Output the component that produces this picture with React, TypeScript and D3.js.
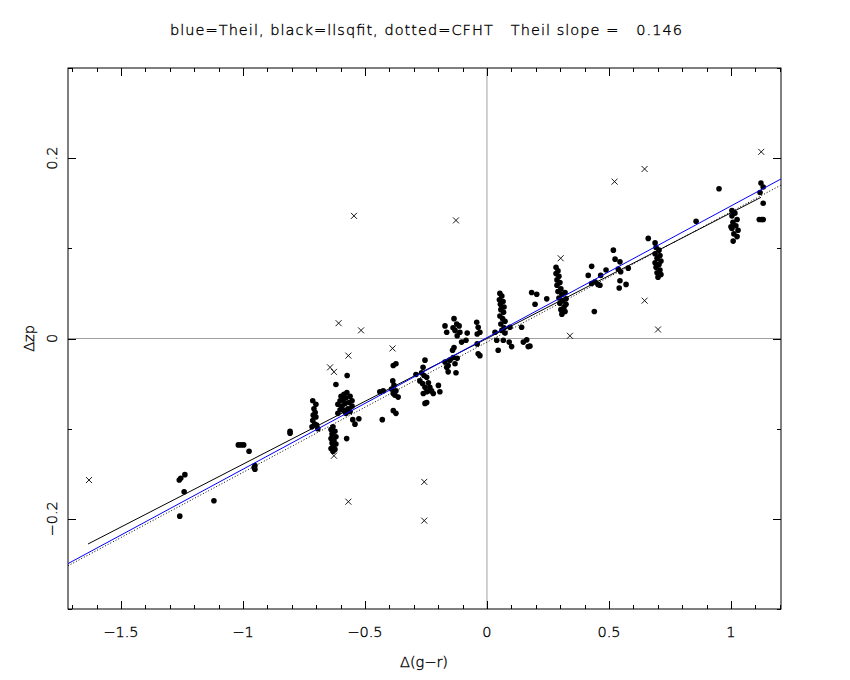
import React from "react";
import * as d3 from "d3";

const W = 850;
const H = 680;
const frame = { left: 68, right: 781, top: 68, bottom: 609 };

const titleText = "blue=Theil, black=llsqfit, dotted=CFHT   Theil slope =   0.146";
const xTickLabels = ["-1.5", "-1", "-0.5", "0", "0.5", "1"];
const yTickLabels = ["-0.2", "0", "0.2"];

// stars kept in the fit: [delta(g-r), delta zp]
const keptPoints: [number, number][] = [
  [-1.261, -0.157], [-1.255, -0.155], [-1.238, -0.151], [-1.241, -0.17], [-1.259, -0.197],
  [-1.119, -0.18], [-1.019, -0.118], [-1.008, -0.118], [-0.997, -0.118], [-0.975, -0.125],
  [-0.951, -0.141], [-0.951, -0.145], [-0.954, -0.143], [-0.807, -0.103], [-0.807, -0.105],
  [-0.714, -0.069], [-0.701, -0.073], [-0.709, -0.078], [-0.704, -0.082], [-0.712, -0.085],
  [-0.701, -0.087], [-0.714, -0.091], [-0.706, -0.095], [-0.698, -0.096], [-0.717, -0.098],
  [-0.693, -0.1],
  [-0.631, -0.098], [-0.639, -0.101], [-0.623, -0.103], [-0.635, -0.106], [-0.619, -0.109],
  [-0.639, -0.111], [-0.627, -0.113], [-0.635, -0.116], [-0.619, -0.117], [-0.631, -0.12],
  [-0.639, -0.122], [-0.623, -0.123], [-0.631, -0.125],
  [-0.619, -0.051], [-0.573, -0.041], [-0.598, -0.064], [-0.586, -0.062], [-0.574, -0.06],
  [-0.602, -0.069], [-0.59, -0.068], [-0.578, -0.066], [-0.561, -0.064], [-0.611, -0.073],
  [-0.594, -0.075], [-0.582, -0.072], [-0.565, -0.071], [-0.553, -0.069], [-0.602, -0.079],
  [-0.586, -0.08], [-0.57, -0.078], [-0.553, -0.075], [-0.611, -0.083], [-0.578, -0.083],
  [-0.561, -0.081], [-0.55, -0.09], [-0.541, -0.095], [-0.525, -0.089], [-0.575, -0.111],
  [-0.439, -0.059], [-0.425, -0.058], [-0.429, -0.09],
  [-0.384, -0.03], [-0.373, -0.028], [-0.386, -0.047], [-0.381, -0.052], [-0.391, -0.056],
  [-0.373, -0.058], [-0.377, -0.063], [-0.364, -0.065], [-0.384, -0.061], [-0.384, -0.08],
  [-0.373, -0.083],
  [-0.291, -0.04], [-0.254, -0.024], [-0.262, -0.032], [-0.268, -0.038], [-0.258, -0.041],
  [-0.247, -0.043], [-0.275, -0.047], [-0.264, -0.05], [-0.254, -0.054], [-0.24, -0.049],
  [-0.234, -0.054], [-0.247, -0.059], [-0.261, -0.061], [-0.234, -0.058], [-0.227, -0.058],
  [-0.22, -0.061], [-0.199, -0.052], [-0.193, -0.059], [-0.247, -0.071], [-0.254, -0.072],
  [-0.172, -0.026], [-0.159, -0.03], [-0.152, -0.024], [-0.138, -0.021], [-0.131, -0.028],
  [-0.122, -0.022], [-0.141, -0.013], [-0.135, -0.01], [-0.165, -0.032], [-0.159, -0.037],
  [-0.127, -0.038],
  [-0.172, 0.014], [-0.165, 0.007], [-0.135, 0.022], [-0.124, 0.016], [-0.114, 0.014],
  [-0.131, 0.009], [-0.111, 0.007], [-0.122, 0.003], [-0.081, 0.006], [-0.086, -0.002],
  [-0.104, -0.004], [-0.139, 0.012],
  [-0.042, 0.018], [-0.036, 0.0125], [-0.04, 0.005], [-0.04, -0.006], [-0.036, -0.017],
  [-0.029, -0.019], [-0.029, 0.007], [0.033, 0.007], [0.046, -0.013], [0.04, -0.002],
  [0.067, -0.002], [0.091, -0.004], [0.101, -0.009], [0.094, 0.0125], [0.142, 0.0125],
  [0.149, -0.004], [0.163, -0.0015], [0.169, -0.009], [0.176, -0.0085],
  [0.053, 0.05], [0.061, 0.047], [0.051, 0.043], [0.066, 0.041], [0.055, 0.038],
  [0.07, 0.035], [0.057, 0.032], [0.068, 0.029], [0.053, 0.025], [0.064, 0.022],
  [0.074, 0.019], [0.057, 0.016], [0.07, 0.012], [0.061, 0.009], [0.074, 0.006],
  [0.183, 0.051], [0.204, 0.049], [0.197, 0.038], [0.245, 0.044],
  [0.283, 0.079], [0.291, 0.075], [0.283, 0.072], [0.295, 0.069], [0.287, 0.065],
  [0.299, 0.062], [0.287, 0.059], [0.303, 0.055], [0.291, 0.052], [0.307, 0.049],
  [0.32, 0.051], [0.295, 0.045], [0.311, 0.042], [0.324, 0.044], [0.299, 0.039],
  [0.316, 0.035], [0.303, 0.032], [0.32, 0.03], [0.307, 0.027], [0.324, 0.038],
  [0.44, 0.03], [0.415, 0.07], [0.429, 0.08], [0.429, 0.061], [0.443, 0.063],
  [0.455, 0.06], [0.463, 0.059], [0.466, 0.07], [0.488, 0.076],
  [0.518, 0.098], [0.525, 0.088], [0.545, 0.085], [0.538, 0.077], [0.548, 0.074],
  [0.579, 0.078], [0.545, 0.064], [0.542, 0.056], [0.57, 0.06],
  [0.661, 0.111], [0.689, 0.106],
  [0.693, 0.101], [0.705, 0.098], [0.689, 0.094], [0.709, 0.092], [0.697, 0.089],
  [0.713, 0.086], [0.689, 0.084], [0.705, 0.082], [0.693, 0.079], [0.709, 0.076],
  [0.697, 0.073], [0.713, 0.071], [0.701, 0.068],
  [0.857, 0.13], [0.951, 0.166],
  [1.004, 0.142], [1.016, 0.139], [1.004, 0.136], [1.025, 0.132], [1.008, 0.129],
  [1.02, 0.125], [1.004, 0.122], [1.029, 0.12], [1.012, 0.116], [1.025, 0.113],
  [1.009, 0.108], [1.0, 0.124],
  [1.123, 0.1725], [1.132, 0.168], [1.119, 0.162], [1.132, 0.15],
  [1.116, 0.132], [1.126, 0.132], [1.132, 0.132],
];

// rejected stars, drawn as crosses
const rejectedPoints: [number, number][] = [
  [-1.631, -0.157], [-0.545, 0.136], [-0.127, 0.131], [0.523, 0.174], [0.646, 0.188],
  [1.124, 0.207], [-0.608, 0.017], [-0.516, 0.009], [-0.568, -0.019], [-0.387, -0.011],
  [-0.643, -0.032], [-0.627, -0.037], [-0.627, -0.13], [-0.568, -0.181], [-0.257, -0.159],
  [-0.257, -0.202], [0.302, 0.089], [0.646, 0.042], [0.701, 0.01], [0.34, 0.003],
];

// fitted lines: slope, intercept, x range
const theilFit = { slope: 0.146, intercept: 0.001, from: -1.717, to: 1.205 };
const lsqFit = { slope: 0.1394, intercept: 0.0, from: -1.635, to: 1.123 };
const cfhtFit = { slope: 0.1445, intercept: -0.004, from: -1.717, to: 1.205 };

const font = "'DejaVu Sans', sans-serif";
const minus = (s: string) => s.replace("-", "\u2212");

// thin black lettering, a little like the plot package's stroke font
const textStyle = {
  fontSize: 14.5,
  fill: "#000",
  stroke: "#000",
  strokeWidth: 0.35,
};

export default function App() {
  const x = d3.scaleLinear().domain([-1.717, 1.205]).range([frame.left, frame.right]);
  const y = d3.scaleLinear().domain([-0.3, 0.3]).range([frame.bottom, frame.top]);

  const fitPath = (f: { slope: number; intercept: number; from: number; to: number }) =>
    d3
      .line<number>()
      .x((d) => x(d))
      .y((d) => y(f.slope * d + f.intercept))([f.from, f.to]) || "";

  const xMinor = d3.range(-17, 13).map((v) => v / 10);
  const yMinor = d3.range(-3, 4).map((v) => v / 10);

  return (
    <svg
      width={W}
      height={H}
      style={{ position: "absolute", left: 0, top: 0, background: "#fff" }}
      fontFamily={font}
      fontWeight={200}
    >
      <rect width={W} height={H} fill="#fff" />
      <text
        x={170}
        y={35}
        textLength={512}
        lengthAdjust="spacing"
        style={{ whiteSpace: "pre" }}
        {...textStyle}
      >
        {titleText}
      </text>

      {/* zero lines */}
      <line x1={x(0)} x2={x(0)} y1={frame.top} y2={frame.bottom} stroke="#a0a0a0" />
      <line x1={frame.left} x2={frame.right} y1={y(0)} y2={y(0)} stroke="#a0a0a0" />

      {/* frame and ticks */}
      <rect
        x={frame.left}
        y={frame.top}
        width={frame.right - frame.left}
        height={frame.bottom - frame.top}
        fill="none"
        stroke="#000"
      />
      {xMinor.map((v) => {
        const major = Math.abs(v * 2 - Math.round(v * 2)) < 1e-6;
        const len = major ? 8 : 4;
        const px = Math.round(x(v)) + 0.5;
        return (
          <g key={"xt" + v} stroke="#000">
            <line x1={px} x2={px} y1={frame.bottom} y2={frame.bottom - len} />
            <line x1={px} x2={px} y1={frame.top} y2={frame.top + len} />
          </g>
        );
      })}
      {yMinor.map((v) => {
        const major = Math.abs(v * 5 - Math.round(v * 5)) < 1e-6;
        const len = major ? 8 : 4;
        const py = Math.round(y(v)) + 0.5;
        return (
          <g key={"yt" + v} stroke="#000">
            <line x1={frame.left} x2={frame.left + len} y1={py} y2={py} />
            <line x1={frame.right} x2={frame.right - len} y1={py} y2={py} />
          </g>
        );
      })}

      {xTickLabels.map((t) => (
        <text key={t} x={x(+t)} y={637} textAnchor="middle" {...textStyle}>
          {minus(t)}
        </text>
      ))}
      {yTickLabels.map((t) => (
        <text
          key={t}
          transform={`translate(57,${y(+t)}) rotate(-90)`}
          textAnchor="middle"
          {...textStyle}
        >
          {minus(t)}
        </text>
      ))}
      <text x={424} y={667} textAnchor="middle" {...textStyle}>
        {"\u0394(g\u2212r)"}
      </text>
      <text transform={`translate(34,${y(0)}) rotate(-90)`} textAnchor="middle" {...textStyle}>
        {"\u0394zp"}
      </text>

      {/* points */}
      {keptPoints.map(([gx, gy], i) => (
        <circle key={"k" + i} cx={x(gx)} cy={y(gy)} r={2.8} fill="#000" />
      ))}
      {rejectedPoints.map(([gx, gy], i) => {
        const cx = x(gx);
        const cy = y(gy);
        const s = 3;
        return (
          <path
            key={"r" + i}
            d={`M${cx - s},${cy - s}L${cx + s},${cy + s}M${cx - s},${cy + s}L${cx + s},${cy - s}`}
            stroke="#000"
            strokeWidth={0.9}
            fill="none"
          />
        );
      })}

      {/* fits */}
      <path d={fitPath(cfhtFit)} stroke="#000" strokeWidth={1} strokeDasharray="1,2" fill="none" />
      <path d={fitPath(lsqFit)} stroke="#000" strokeWidth={1} fill="none" />
      <path d={fitPath(theilFit)} stroke="#0000ff" strokeWidth={1} fill="none" />
    </svg>
  );
}
